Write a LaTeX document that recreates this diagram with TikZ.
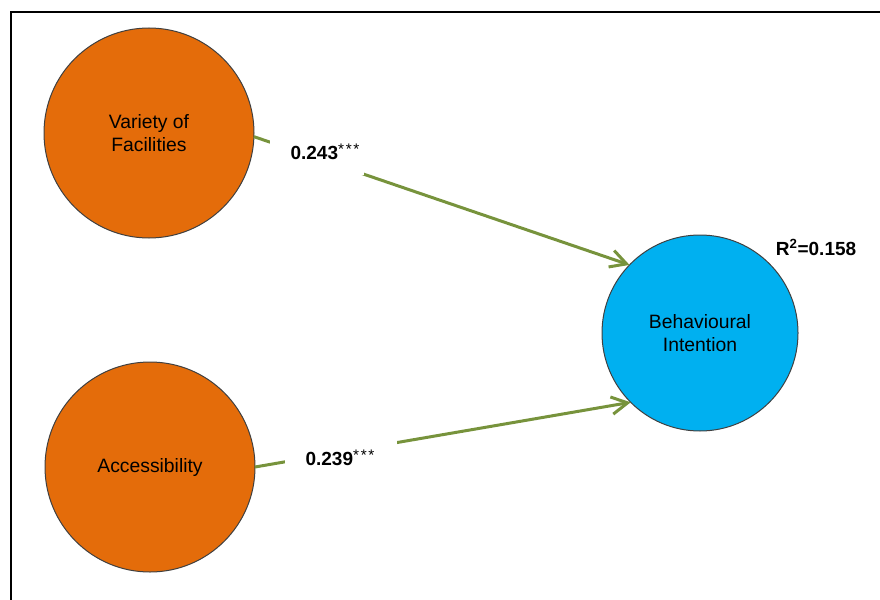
\documentclass[tikz,border=0pt]{standalone}
\usepackage{fontspec}
\setmainfont{Liberation Sans}
\usetikzlibrary{arrows.meta}
\definecolor{constructorange}{HTML}{E46C0A}
\definecolor{outcomeblue}{HTML}{00B0F0}
\definecolor{pathgreen}{HTML}{77933C}
% significance stars set as a raised, spaced superscript
\newcommand{\sigstars}{\raisebox{4.2pt}{\fontsize{11.5}{11.5}\mdseries\selectfont
  *\hspace{1.3pt}*\hspace{1.3pt}*}}
\begin{document}
\begin{tikzpicture}[x=0.75pt,y=-0.75pt,
  construct/.style={circle,draw=black!75,line width=0.75pt,fill=constructorange,
    inner sep=0pt,outer sep=0pt,minimum size=157.5pt,align=center,
    font=\fontsize{14.5}{17.5}\selectfont},
  outcome/.style={construct,fill=outcomeblue,minimum size=147pt},
  pathline/.style={draw=pathgreen,line width=2.25pt,
    -{Straight Barb[length=12pt,width=13pt,line width=2.25pt]}},
  coefbox/.style={fill=white,draw=none,inner sep=0pt},
  coef/.style={inner sep=0pt,font=\fontsize{14.25}{17}\selectfont\bfseries}]
\useasboundingbox (0,0) rectangle (880,599);
\begin{scope}
  \clip (0,0) rectangle (880,599);
  % open frame: only the left and top edges fall inside the page
  \draw[line width=1.6pt] (11,620) -- (11,12) -- (900,12);
\end{scope}

% constructs
\node[construct] (vf) at (149,133) {Variety of\\Facilities};
\node[construct] (acc) at (150,467) {Accessibility};
\node[outcome] (bi) at (700,333) {Behavioural\\Intention};

% structural paths
\draw[pathline] (vf.358) -- (bi.136);
\draw[pathline] (acc.east) -- (bi.225);

% path coefficients on white boxes that interrupt the lines
\node[coefbox,minimum width=71pt,minimum height=27pt] (b1) at (317,156.5) {};
\node[coef] (c1) at (325,152) {0.243\sigstars};
\node[coefbox,minimum width=84pt,minimum height=20pt] (b2) at (341,453) {};
\node[coef] (c2) at (340,458) {0.239\sigstars};

\node[coef] (r2) at (816,247) {R\textsuperscript{2}=0.158};
\end{tikzpicture}
\end{document}
